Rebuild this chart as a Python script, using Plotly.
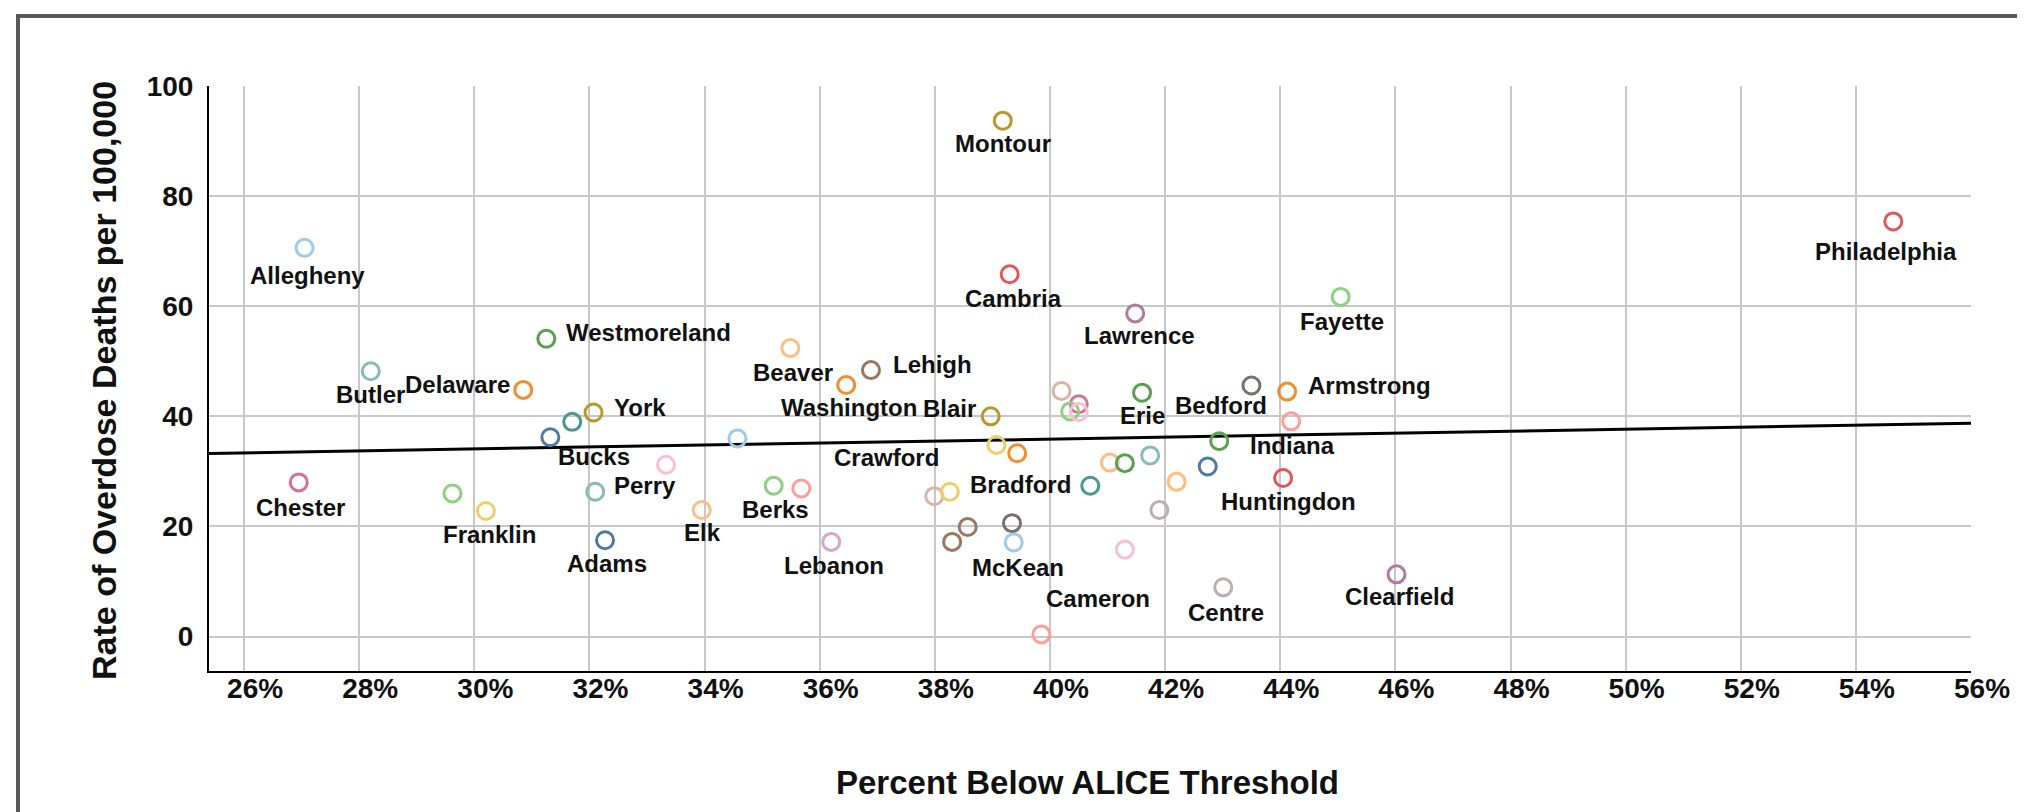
import plotly.graph_objects as go

# ---------------- data ----------------
COUNTY = [
    "Allegheny", "Butler", "Delaware", "Westmoreland", "York", "", "Bucks",
    "Chester", "", "Franklin", "Perry", "Adams", "", "Elk", "", "Beaver",
    "Berks", "", "Lebanon", "Washington", "Lehigh", "", "Bradford", "", "",
    "Blair", "Crawford", "", "", "McKean", "Montour", "Cambria", "Cameron",
    "", "", "", "", "Lawrence", "Erie", "", "", "", "", "", "", "", "", "",
    "Centre", "Bedford", "Armstrong", "Indiana", "Huntingdon", "Fayette",
    "Clearfield", "Philadelphia",
]
ALICE_PCT = [
    27.05, 28.2, 30.85, 31.25, 32.07, 31.7, 31.32,
    26.95, 29.62, 30.2, 32.1, 32.27, 33.33, 33.95, 34.57, 35.49,
    35.2, 35.68, 36.2, 36.46, 36.89, 37.99, 38.26, 38.57, 38.3,
    38.97, 39.07, 39.43, 39.34, 39.37, 39.18, 39.3, 39.85,
    40.2, 40.5, 40.35, 40.5, 41.48, 41.6, 40.7, 41.04, 41.3, 41.74, 41.3, 41.9, 42.2, 42.74, 42.94,
    43.01, 43.5, 44.12, 44.19, 44.05, 45.05,
    46.02, 54.65,
]
OD_RATE = [
    70.6, 48.2, 44.8, 54.1, 40.7, 39.0, 36.2,
    28.0, 26.0, 22.8, 26.3, 17.5, 31.2, 23.0, 36.0, 52.4,
    27.4, 26.9, 17.2, 45.7, 48.4, 25.5, 26.3, 19.9, 17.2,
    40.0, 34.8, 33.3, 20.6, 17.1, 93.7, 65.8, 0.4,
    44.6, 42.2, 40.9, 40.8, 58.7, 44.3, 27.4, 31.6, 31.5, 32.9, 15.8, 23.0, 28.1, 30.9, 35.5,
    8.95, 45.6, 44.5, 39.1, 28.8, 61.7,
    11.3, 75.4,
]
X_TICKS = [26, 28, 30, 32, 34, 36, 38, 40, 42, 44, 46, 48, 50, 52, 54, 56]
X_TICK_LABELS = ["26%", "28%", "30%", "32%", "34%", "36%", "38%", "40%",
                 "42%", "44%", "46%", "48%", "50%", "52%", "54%", "56%"]
Y_TICKS = [0, 20, 40, 60, 80, 100]
Y_TICK_LABELS = ["0", "20", "40", "60", "80", "100"]
X_RANGE = [25.39, 56.0]
Y_RANGE = [-6.25, 100.0]
TREND_INTERCEPT = 28.71
TREND_SLOPE = 0.179
X_TITLE = "Percent Below ALICE Threshold"
Y_TITLE = "Rate of Overdose Deaths per 100,000"

# ---------------- styles ----------------
T = {
    "blue": "#4E79A7", "lblue": "#A0CBE8", "orange": "#F28E2B", "lorange": "#FFBE7D",
    "green": "#59A14F", "lgreen": "#8CD17D", "olive": "#B6992D", "yellow": "#F1CE63",
    "teal": "#499894", "lteal": "#86BCB6", "red": "#E15759", "pink": "#FF9D9A",
    "gray": "#79706E", "lgray": "#BAB0AC", "magenta": "#D37295", "lpink": "#FABFD2",
    "purple": "#B07AA1", "lpurple": "#D4A6C8", "brown": "#9D7660", "tan": "#D7B5A6",
}
POINT_COLORS = [T[c] for c in [
    "lblue", "lteal", "orange", "green", "olive", "teal", "blue",
    "magenta", "lgreen", "yellow", "lteal", "blue", "lpink", "lorange", "lblue", "lorange",
    "lgreen", "pink", "lpurple", "orange", "brown", "tan", "yellow", "brown", "brown",
    "olive", "yellow", "orange", "gray", "lblue", "olive", "red", "pink",
    "tan", "magenta", "lgreen", "lpink", "purple", "green", "teal", "lorange", "green",
    "lteal", "lpink", "lgray", "lorange", "blue", "green",
    "lgray", "gray", "orange", "pink", "red", "lgreen",
    "purple", "red",
]]

# label placement: (x anchor, x shift px, y shift px) relative to the point
LABEL_PLACE = {
    "Allegheny": ("center", 3, -28), "Butler": ("center", 0, -23),
    "Delaware": ("right", -11, 5), "Westmoreland": ("left", 18, 6),
    "York": ("left", 18, 5), "Bucks": ("center", 44, -19),
    "Chester": ("center", 2, -25), "Franklin": ("center", 4, -23),
    "Perry": ("left", 17, 6), "Adams": ("center", 2, -23),
    "Elk": ("center", 1, -23), "Beaver": ("center", 3, -24),
    "Berks": ("center", 2, -24), "Lebanon": ("center", 3, -24),
    "Washington": ("center", 3, -23), "Lehigh": ("left", 20, 6),
    "Bradford": ("left", 18, 7), "Blair": ("right", -13, 8),
    "Crawford": ("right", -55, -13), "McKean": ("center", 4, -25),
    "Montour": ("center", 0, -23), "Cambria": ("center", 4, -24),
    "Cameron": ("center", 57, 36), "Lawrence": ("center", 4, -22),
    "Erie": ("center", 0, -23), "Centre": ("center", 3, -25),
    "Bedford": ("center", -30, -20), "Armstrong": ("left", 19, 6),
    "Indiana": ("center", 1, -24), "Huntingdon": ("center", 5, -23),
    "Fayette": ("center", 1, -25), "Clearfield": ("center", 3, -22),
    "Philadelphia": ("center", -7, -30),
}

FONT = "Liberation Sans, Arial, Helvetica, sans-serif"
FIG_W, FIG_H = 2025, 812
ML, MR, MT, MB = 201, 62, 78, 149
PW, PH = FIG_W - ML - MR, FIG_H - MT - MB


def paper_x(px):
    return (px - ML) / PW


def paper_y(py):
    return (FIG_H - MB - py) / PH


fig = go.Figure()

# trend line across the axis range
fig.add_trace(go.Scatter(
    x=X_RANGE,
    y=[TREND_INTERCEPT + TREND_SLOPE * v for v in X_RANGE],
    mode="lines", line=dict(color="black", width=3), hoverinfo="skip",
))

fig.add_trace(go.Scatter(
    x=ALICE_PCT, y=OD_RATE, mode="markers", text=COUNTY,
    marker=dict(symbol="circle-open", size=17, color=POINT_COLORS,
                line=dict(width=3)),
    hovertemplate="%{text}<br>%{x}%<br>%{y}<extra></extra>",
))

annotations = []
for name, xv, yv in zip(COUNTY, ALICE_PCT, OD_RATE):
    if not name:
        continue
    anchor, dx, dy = LABEL_PLACE[name]
    annotations.append(dict(
        x=xv, y=yv, xref="x", yref="y", text=name, showarrow=False,
        xanchor=anchor, yanchor="middle", xshift=dx, yshift=dy,
        font=dict(family=FONT, size=24, color="#111111", weight="bold"),
    ))

annotations.append(dict(
    x=paper_x(1079), y=paper_y(774), xref="paper", yref="paper", text=X_TITLE,
    showarrow=False, xanchor="center", yanchor="middle",
    font=dict(family=FONT, size=33, color="#111111", weight="bold"),
))
annotations.append(dict(
    x=paper_x(96), y=paper_y(373), xref="paper", yref="paper", text=Y_TITLE,
    showarrow=False, xanchor="center", yanchor="middle", textangle=-90,
    font=dict(family=FONT, size=34, color="#111111", weight="bold"),
))

border = dict(color="#595959", width=4)
shapes = [
    dict(type="line", xref="paper", yref="paper", layer="above",
         x0=paper_x(10), x1=paper_x(10), y0=paper_y(6), y1=paper_y(FIG_H + 2), line=border),
    dict(type="line", xref="paper", yref="paper", layer="above",
         x0=paper_x(8), x1=paper_x(FIG_W + 2), y0=paper_y(8), y1=paper_y(8), line=border),
]

axis_common = dict(
    showgrid=True, gridcolor="#c8c8c8", gridwidth=2, zeroline=False,
    showline=True, linecolor="black", linewidth=2, ticks="",
    tickfont=dict(family=FONT, size=28, color="#111111", weight="bold"),
)

fig.update_layout(
    width=FIG_W, height=FIG_H,
    margin=dict(l=ML, r=MR, t=MT, b=MB, autoexpand=False),
    paper_bgcolor="white", plot_bgcolor="white", showlegend=False,
    xaxis=dict(range=X_RANGE, tickmode="array", tickvals=X_TICKS, ticktext=X_TICK_LABELS,
               ticklabelstandoff=-9, ticklabelshift=11, **axis_common),
    yaxis=dict(range=Y_RANGE, tickmode="array", tickvals=Y_TICKS, ticktext=Y_TICK_LABELS,
               ticklabelstandoff=8, **axis_common),
    annotations=annotations, shapes=shapes,
)

fig.write_html("out.html")
